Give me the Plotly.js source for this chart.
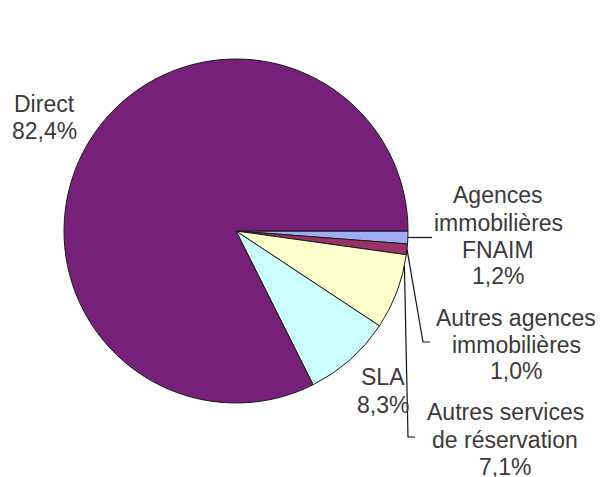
<!DOCTYPE html>
<html>
<head>
<meta charset="utf-8">
<script src="https://cdn.plot.ly/plotly-3.0.1.min.js"></script>
<style>html,body{margin:0;padding:0;background:#fff;}#chart{width:603px;height:477px;}</style>
</head>
<body>
<div id="chart"></div>
<script>
// Data (clockwise from 3 o'clock)
var categories = ["Agences immobilières FNAIM", "Autres agences immobilières", "Autres services de réservation", "SLA", "Direct"];
var labelLines = [["Agences", "immobilières", "FNAIM"], ["Autres agences", "immobilières"], ["Autres services", "de réservation"], ["SLA"], ["Direct"]];
var values = [1.2, 1.0, 7.1, 8.3, 82.4];
var valueLabels = ["1,2%", "1,0%", "7,1%", "8,3%", "82,4%"];

// Styles / layout
var colors = ["#9FAEF4", "#993366", "#FFFFCC", "#CCFFFF", "#762079"];
var W = 603, H = 477;
var CX = 236, CY = 231, R = 172;
// label placement: x center and y center of each text line (px)
var labelPos = [
  [498, [195, 223, 250, 276]],
  [516, [318, 345, 371]],
  [505, [412, 440, 467]],
  [383, [377, 405]],
  [45, [104, 131]]
];
// leader lines: fraction inside slice where line starts, and elbow points (px)
var leaders = [
  {i: 0, f: 0.5, pts: [[432, null]]},
  {i: 1, f: 0.5, pts: [[423, 342], [430, 342]]},
  {i: 2, f: 0.15, pts: [[408, 437], [415, 437]]}
];

function px(x) { return x / W; }
function py(y) { return 1 - y / H; }

var total = values.reduce(function (a, b) { return a + b; }, 0);
function edgePoint(i, f) {
  var before = 0;
  for (var k = 0; k < i; k++) before += values[k];
  var frac = (before + f * values[i]) / total;
  var th = frac * 2 * Math.PI; // clockwise from 3 o'clock, screen coords
  return [CX + R * Math.cos(th), CY + R * Math.sin(th)];
}

var shapes = leaders.map(function (L) {
  var p0 = edgePoint(L.i, L.f);
  var d = "M" + px(p0[0]) + "," + py(p0[1]);
  L.pts.forEach(function (p) {
    var y = p[1] === null ? p0[1] : p[1];
    d += " L" + px(p[0]) + "," + py(y);
  });
  return {type: "path", xref: "paper", yref: "paper", path: d, line: {color: "#111", width: 1.2}};
});

var annotations = [];
categories.forEach(function (c, i) {
  var lines = labelLines[i].concat([valueLabels[i]]);
  lines.forEach(function (t, j) {
    annotations.push({
      xref: "paper", yref: "paper",
      x: px(labelPos[i][0]), y: py(labelPos[i][1][j]),
      xanchor: "center", yanchor: "middle", align: "center",
      showarrow: false, borderpad: 0,
      text: t,
      font: {family: "Liberation Sans, Arial, sans-serif", size: 23, color: "#3a3a3a"}
    });
  });
});

var trace = {
  type: "pie",
  labels: categories,
  values: values,
  sort: false,
  direction: "clockwise",
  rotation: 90,
  textinfo: "none",
  hoverinfo: "none",
  marker: {colors: colors, line: {color: "#1b1b1b", width: 1}},
  domain: {x: [px(CX - R), px(CX + R)], y: [py(CY + R), py(CY - R)]},
  showlegend: false
};

var layout = {
  width: W, height: H,
  margin: {l: 0, r: 0, t: 0, b: 0},
  paper_bgcolor: "#fff",
  showlegend: false,
  shapes: shapes,
  annotations: annotations
};

Plotly.newPlot("chart", [trace], layout, {staticPlot: true, displayModeBar: false});
</script>
</body>
</html>
